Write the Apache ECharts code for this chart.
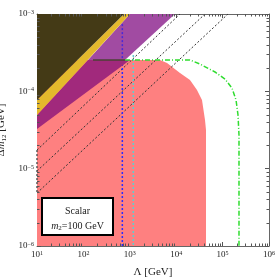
<!DOCTYPE html>
<html><head><meta charset="utf-8">
<script src="https://cdn.jsdelivr.net/npm/echarts@6/dist/echarts.min.js"></script>
<style>html,body{margin:0;padding:0;background:#fff}#c{width:277px;height:278px}</style>
</head><body><div id="c"></div>
<script>
// ---- data (Λ [GeV], Δm12 [GeV]) ----
const xRange = [10, 1e6];
const yRange = [1e-6, 1e-3];
const xMajorTicks = [10, 100, 1e3, 1e4, 1e5, 1e6];
const yMajorTicks = [1e-6, 1e-5, 1e-4, 1e-3];
const minorFactors = [2, 3, 4, 5, 6, 7, 8, 9];

const darkRegion = [[10, 1e-3], [750, 1e-3], [10, 7.73e-5]];
const yellowRegion = [[10, 7.73e-5], [750, 1e-3], [1009, 1e-3], [10, 4.94e-5]];
const purpleRegion = [[125.6, 2.54e-4], [1009, 1e-3], [9420, 1e-3], [788, 2.54e-4]];
const magentaRegion = [[10, 4.94e-5], [125.6, 2.54e-4], [1009, 2.54e-4], [10, 3.26e-5]];
const pinkRegion = [[10, 1e-6], [10, 2.54e-4], [4477, 2.54e-4], [6340, 2.32e-4], [12080, 1.73e-4],
  [19820, 1.40e-4], [28060, 1.04e-4], [35980, 7.73e-5], [41770, 4.26e-5], [43880, 3.16e-5], [43880, 1e-6]];
const greenCurve = [[788, 2.54e-4], [19820, 2.54e-4], [32580, 2.25e-4], [68500, 1.78e-4], [112700, 1.44e-4],
  [159600, 1.10e-4], [194600, 7.73e-5], [214900, 4.94e-5], [225600, 2.72e-5], [225600, 1e-6]];
const darkEdge = [[161, 2.54e-4], [788, 2.54e-4]];
const blueUpper = [[690, 7.4e-4], [690, 2.54e-4]];
const blueLower = [[690, 2.54e-4], [690, 1e-6]];
const cyanLine = [[1190, 2.95e-4], [1190, 1e-6]];
const dashed1 = [[10, 1.74e-5], [12080, 1e-3]];
const dashed2 = [[10, 9.33e-6], [41770, 1e-3]];
const dashed3 = [[10, 4.84e-6], [130600, 1e-3]];
const dashedEdge = [[10, 1.74e-5], [10, 4.84e-6]];

// ---- chart ----
const chart = echarts.init(document.getElementById('c'), null, {renderer: 'canvas'});
const serif = 'Liberation Serif';
const G = {left: 37, top: 14, width: 232, height: 232, outerBoundsMode: 'none', containLabel: false};

function expLabel(v) {
  const e = Math.round(Math.log10(v));
  return '10{sup|' + (e < 0 ? '\u2212' + (-e) : e) + '}';
}
const labelRich = {sup: {fontSize: 6, fontFamily: serif, color: '#222', verticalAlign: 'top', lineHeight: 8, padding: [0, 0, 6, 0]}};

function polySeries(verts, color, z) {
  return {
    type: 'custom', coordinateSystem: 'cartesian2d', z: z, silent: true, data: verts,
    renderItem: function (params, api) {
      if (params.dataIndex !== 0) return null;
      return {type: 'polygon', shape: {points: verts.map(v => api.coord(v))}, style: {fill: color}};
    }
  };
}
function lineSeries(pts, color, type, width, z) {
  return {type: 'line', data: pts, symbol: 'none', z: z, silent: true, animation: false,
    lineStyle: {color: color, type: type, width: width}};
}

const xMinor = [], yMinor = [];
xMajorTicks.slice(0, -1).forEach(d => minorFactors.forEach(f => xMinor.push(d * f)));
yMajorTicks.slice(0, -1).forEach(d => minorFactors.forEach(f => yMinor.push(d * f)));

const minorTickSeries = {
  type: 'custom', coordinateSystem: 'cartesian2d', z: 20, silent: true, data: [[xRange[0], yRange[0]]],
  renderItem: function (params, api) {
    const ch = [];
    const st = {stroke: '#555', lineWidth: 1};
    xMinor.forEach(v => {
      const b = api.coord([v, yRange[0]]), t = api.coord([v, yRange[1]]);
      const x = Math.round(b[0]) + 0.5;
      ch.push({type: 'line', shape: {x1: x, y1: b[1], x2: x, y2: b[1] - 2.5}, style: st});
      ch.push({type: 'line', shape: {x1: x, y1: t[1], x2: x, y2: t[1] + 2.5}, style: st});
    });
    yMinor.forEach(v => {
      const l = api.coord([xRange[0], v]), r = api.coord([xRange[1], v]);
      const y = Math.round(l[1]) + 0.5;
      ch.push({type: 'line', shape: {x1: l[0], y1: y, x2: l[0] + 2.5, y2: y}, style: st});
      ch.push({type: 'line', shape: {x1: r[0], y1: y, x2: r[0] - 2.5, y2: y}, style: st});
    });
    return {type: 'group', children: ch};
  }
};

const axisCommon = {
  type: 'log', logBase: 10,
  axisLine: {show: true, onZero: false, lineStyle: {color: '#666', width: 1}},
  axisTick: {show: true, inside: true, length: 4, lineStyle: {color: '#555'}},
  splitLine: {show: false}, minorTick: {show: false}
};

chart.setOption({
  animation: false,
  backgroundColor: '#fff',
  grid: G,
  xAxis: [
    Object.assign({}, axisCommon, {min: xRange[0], max: xRange[1], interval: 1, position: 'bottom',
      name: 'Λ [GeV]', nameLocation: 'middle', nameGap: 21,
      nameTextStyle: {fontFamily: serif, fontSize: 11, color: '#222'},
      axisLabel: {formatter: expLabel, fontFamily: serif, fontSize: 9, color: '#222', margin: 4, rich: labelRich}}),
    Object.assign({}, axisCommon, {min: xRange[0], max: xRange[1], interval: 1, position: 'top', axisLabel: {show: false}})
  ],
  yAxis: [
    Object.assign({}, axisCommon, {min: yRange[0], max: yRange[1], interval: 1, position: 'left',
      name: 'Δ{i|m}{sub|12} [GeV]', nameLocation: 'middle', nameGap: 26, nameRotate: 90,
      nameTextStyle: {fontFamily: serif, fontSize: 11, color: '#222',
        rich: {i: {fontFamily: serif, fontStyle: 'italic', fontSize: 11, color: '#222'},
               sub: {fontFamily: serif, fontSize: 7, color: '#222', verticalAlign: 'bottom', padding: [6, 0, 0, 0]}}},
      axisLabel: {formatter: expLabel, fontFamily: serif, fontSize: 9, color: '#222', margin: 3, rich: labelRich}}),
    Object.assign({}, axisCommon, {min: yRange[0], max: yRange[1], interval: 1, position: 'right', axisLabel: {show: false}})
  ],
  series: [
    polySeries(pinkRegion, '#fe8080', 1),
    lineSeries(dashed1, '#333', [2, 2], 1, 2),
    lineSeries(dashed2, '#333', [2, 2], 1, 2),
    lineSeries(dashed3, '#333', [2, 2], 1, 2),
    lineSeries(dashedEdge, '#555', [2, 2], 1.5, 21),
    lineSeries(blueLower, '#2a2aff', [2, 2], 1.5, 3),
    lineSeries(cyanLine, '#5fcfcf', [2, 2], 1.5, 3),
    polySeries(magentaRegion, '#a1297c', 4),
    polySeries(purpleRegion, '#a14ba2', 4),
    polySeries(yellowRegion, '#e4b92c', 4),
    polySeries(darkRegion, '#443a16', 4),
    lineSeries(blueUpper, '#4a28d8', [2, 2], 1.5, 5),
    lineSeries(darkEdge, '#4d4035', 'solid', 1.5, 5),
    lineSeries(greenCurve, '#2fdc2f', [5, 2, 1, 2], 1.5, 6),
    minorTickSeries
  ],
  graphic: [
    {type: 'rect', z: 100, shape: {x: 42, y: 198, width: 71, height: 37},
      style: {fill: '#fff', stroke: '#000', lineWidth: 2}},
    {type: 'text', z: 101, x: 77.5, y: 211, style: {text: 'Scalar', fontFamily: serif, fontSize: 10,
      fill: '#222', align: 'center', verticalAlign: 'middle'}},
    {type: 'text', z: 101, x: 77.5, y: 226, style: {text: '{i|m}{sub|2}=100 GeV', fontFamily: serif, fontSize: 10,
      fill: '#222', align: 'center', verticalAlign: 'middle',
      rich: {i: {fontStyle: 'italic', fontFamily: serif, fontSize: 10, fill: '#222'},
             sub: {fontFamily: serif, fontSize: 7, fill: '#222', verticalAlign: 'bottom', padding: [5, 0, 0, 0]}}}}
  ]
});
</script>
</body></html>
